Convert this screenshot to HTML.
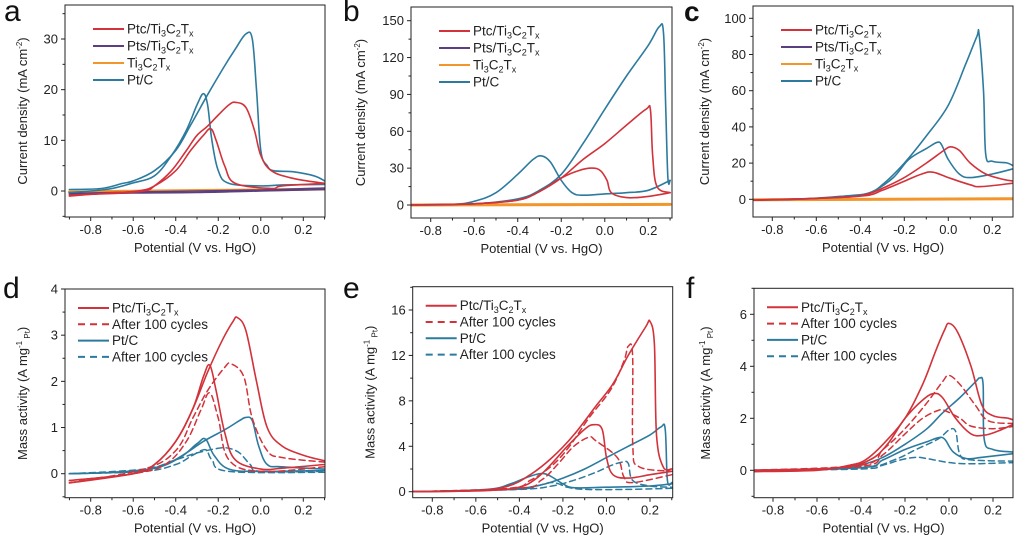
<!DOCTYPE html>
<html><head><meta charset="utf-8"><style>
html,body{margin:0;padding:0;background:#fff;}
svg{display:block;font-family:"Liberation Sans",sans-serif;}
</style></head><body>
<svg id="fig" width="1014" height="537" viewBox="0 0 1014 537" xmlns="http://www.w3.org/2000/svg"></svg>
<script>
// ===== Panel a (current density, mA cm-2) =====
const aPtcF_x=[-0.9,-0.7,-0.55,-0.5,-0.42,-0.35,-0.3,-0.25,-0.2,-0.15,-0.12,-0.07,-0.03,0.0,0.05,0.15,0.3];
const aPtcF_y=[-0.8,-0.5,0,1,4,8,11,12.8,15,17,17.5,16.5,12,7,4,2.5,1.5];
const aPtcR_x=[0.3,0.1,0.05,-0.12,-0.17,-0.21,-0.235,-0.27,-0.33,-0.4,-0.5,-0.58,-0.75,-0.9];
const aPtcR_y=[1.5,1.0,0.5,1.5,5,10,12.3,11,8,4,1,0,-0.5,-1];
const aPtF_x=[-0.9,-0.75,-0.65,-0.6,-0.5,-0.4,-0.33,-0.25,-0.18,-0.12,-0.07,-0.04,-0.02,0.0,0.03,0.06,0.15,0.25,0.3];
const aPtF_y=[0.3,0.5,1.5,2,4,8,13,19,24,28,31,30,20,8,5,4,3.8,3,2];
const aPtR_x=[0.3,0.1,0.0,-0.15,-0.2,-0.23,-0.25,-0.27,-0.3,-0.35,-0.42,-0.5,-0.6,-0.7,-0.8,-0.9];
const aPtR_y=[1.3,1.2,1.0,1.5,4,10,17,19.2,17,12,7,3,1.6,0.5,0,-0.3];
const aPtsF_x=[-0.9,-0.6,-0.3,0.0,0.3];
const aPtsF_y=[-0.5,-0.2,0,0.2,0.6];
const aPtsR_x=[0.3,0.0,-0.3,-0.6,-0.9];
const aPtsR_y=[0.3,0.0,-0.3,-0.4,-0.6];
const aTiF_x=[-0.9,-0.5,0.0,0.3];
const aTiF_y=[-0.2,0,0.2,0.4];
// ===== Panel b =====
const bPtcF_x=[-0.9,-0.6,-0.4,-0.3,-0.2,-0.1,0.0,0.1,0.19,0.21,0.22,0.24,0.3];
const bPtcF_y=[0,1,4,11,22,37,50,65,78,77,40,15,10];
const bPtcR_x=[0.3,0.2,0.1,0.03,0.01,-0.02,-0.06,-0.12,-0.2,-0.3,-0.4,-0.6,-0.9];
const bPtcR_y=[10,7,6,10,20,28,30,28,22,11,4,1,0];
const bPtF_x=[-0.9,-0.6,-0.4,-0.3,-0.2,-0.1,0.0,0.1,0.2,0.25,0.27,0.28,0.29,0.3];
const bPtF_y=[0,1,5,12,25,50,78,105,130,145,140,80,22,20];
const bPtR_x=[0.3,0.2,0.1,0.0,-0.1,-0.15,-0.2,-0.25,-0.29,-0.33,-0.4,-0.5,-0.6,-0.7,-0.9];
const bPtR_y=[20,12,10,9,8,10,20,35,40,37,25,10,3,0.5,0];
const bTiF_x=[-0.9,0.3];
const bTiF_y=[0,0.5];
// ===== Panel c =====
const cPtcF_x=[-0.9,-0.5,-0.38,-0.3,-0.2,-0.1,-0.02,0.01,0.05,0.1,0.17,0.25,0.3];
const cPtcF_y=[-0.5,1,2.5,6,12,20,27,29,27,20,14,11,10];
const cPtcR_x=[0.3,0.15,0.1,0.0,-0.07,-0.12,-0.2,-0.3,-0.38,-0.6,-0.9];
const cPtcR_y=[9,7,8,12,15,14,10,5,2,0.5,-0.5];
const cPtF_x=[-0.9,-0.7,-0.5,-0.37,-0.3,-0.2,-0.1,0.0,0.08,0.13,0.14,0.16,0.17,0.2,0.27,0.3];
const cPtF_y=[-0.5,0,1.5,3,8,20,35,52,75,90,91,60,25,21,20,18];
const cPtR_x=[0.3,0.2,0.1,0.05,0.0,-0.03,-0.05,-0.1,-0.18,-0.25,-0.35,-0.45,-0.6,-0.9];
const cPtR_y=[17,14,12,14,22,30,31.5,28,22,12,4,2,0.5,-0.5];
const cTiF_x=[-0.9,0.3];
const cTiF_y=[-0.3,0.3];
// ===== Panel d (mass activity, A mg-1 Pt) =====
const dPtcF_x=[-0.9,-0.6,-0.5,-0.4,-0.32,-0.25,-0.18,-0.13,-0.11,-0.07,-0.02,0.03,0.1,0.2,0.3];
const dPtcF_y=[-0.2,0,0.2,0.7,1.4,2.2,2.9,3.3,3.38,3.1,2.0,1.0,0.6,0.4,0.28];
const dPtcR_x=[0.3,0.1,0.0,-0.12,-0.17,-0.21,-0.24,-0.27,-0.32,-0.4,-0.5,-0.6,-0.9];
const dPtcR_y=[0.2,0.12,0.1,0.3,0.9,1.8,2.35,2.1,1.4,0.7,0.2,0,-0.15];
const dPtcAF_x=[-0.9,-0.55,-0.4,-0.32,-0.25,-0.17,-0.14,-0.08,-0.04,0.03,0.1,0.3];
const dPtcAF_y=[-0.2,0.1,0.5,1.2,1.8,2.3,2.38,2.1,1.2,0.5,0.35,0.25];
const dPtcAR_x=[0.3,0.0,-0.15,-0.2,-0.24,-0.28,-0.35,-0.45,-0.6,-0.9];
const dPtcAR_y=[0.15,0.05,0.3,1.2,1.75,1.4,0.7,0.2,0,-0.15];
const dPtF_x=[-0.9,-0.6,-0.45,-0.35,-0.27,-0.17,-0.1,-0.07,-0.04,-0.01,0.03,0.1,0.3];
const dPtF_y=[0,0.05,0.2,0.45,0.7,0.95,1.15,1.22,1.15,0.6,0.2,0.15,0.1];
const dPtR_x=[0.3,0.0,-0.15,-0.22,-0.26,-0.3,-0.38,-0.5,-0.7,-0.9];
const dPtR_y=[0.07,0.05,0.1,0.4,0.75,0.65,0.35,0.12,0.03,0];
const dPtAF_x=[-0.9,-0.55,-0.4,-0.3,-0.2,-0.15,-0.1,-0.05,0.0,0.3];
const dPtAF_y=[0,0.1,0.3,0.45,0.55,0.55,0.45,0.2,0.05,0.05];
const dPtAR_x=[0.3,-0.15,-0.23,-0.26,-0.32,-0.4,-0.55,-0.9];
const dPtAR_y=[0.03,0.05,0.3,0.52,0.4,0.2,0.05,0];
// ===== Panel e =====
const ePtcF_x=[-0.9,-0.6,-0.45,-0.35,-0.25,-0.15,-0.05,0.03,0.1,0.18,0.2,0.22,0.23,0.26,0.3];
const ePtcF_y=[0,0.1,0.5,1.5,3,5,7.5,9.5,12,14.5,15,13,5,2.2,2.0];
const ePtcR_x=[0.3,0.2,0.1,0.03,0.0,-0.02,-0.06,-0.1,-0.18,-0.25,-0.32,-0.4,-0.55,-0.9];
const ePtcR_y=[1.8,1.5,1.2,1.5,3,5.5,5.9,5.5,4,2.5,1.2,0.4,0.1,0];
const ePtcAF_x=[-0.9,-0.45,-0.35,-0.25,-0.17,-0.08,0.02,0.08,0.1,0.12,0.121,0.15,0.3];
const ePtcAF_y=[0,0.3,1,2.3,4,6.5,9,11.5,12.8,12,4,2.2,1.8];
const ePtcAR_x=[0.3,0.12,0.08,0.05,-0.05,-0.08,-0.15,-0.22,-0.3,-0.4,-0.9];
const ePtcAR_y=[1.5,0.8,1.3,3,4.5,4.8,4,2.5,1,0.3,0];
const ePtF_x=[-0.9,-0.6,-0.4,-0.3,-0.2,-0.1,0.0,0.1,0.2,0.25,0.27,0.28,0.3];
const ePtF_y=[0,0.1,0.3,0.6,1.2,2,3,4,5,5.7,5.5,1,0.8];
const ePtR_x=[0.3,0.2,0.0,-0.15,-0.2,-0.26,-0.3,-0.36,-0.44,-0.55,-0.9];
const ePtR_y=[0.7,0.5,0.4,0.35,0.7,1.4,1.6,1.3,0.7,0.2,0];
const ePtAF_x=[-0.9,-0.4,-0.25,-0.15,-0.05,0.02,0.07,0.1,0.12,0.2,0.3];
const ePtAF_y=[0,0.2,0.5,1,1.7,2.3,2.6,2.5,1,0.5,0.4];
const ePtAR_x=[0.3,0.1,-0.1,-0.18,-0.22,-0.26,-0.32,-0.42,-0.9];
const ePtAR_y=[0.3,0.2,0.2,0.4,0.7,0.8,0.5,0.2,0];
// ===== Panel f =====
const fPtcF_x=[-0.9,-0.6,-0.45,-0.38,-0.3,-0.2,-0.12,-0.06,-0.02,0.0,0.04,0.1,0.15,0.2,0.27,0.3];
const fPtcF_y=[-0.05,0,0.2,0.4,1.0,2,3.3,4.6,5.4,5.65,5.3,4,2.5,2.1,2.0,1.9];
const fPtcR_x=[0.3,0.22,0.16,0.1,0.03,-0.03,-0.07,-0.12,-0.2,-0.28,-0.36,-0.5,-0.9];
const fPtcR_y=[1.8,1.5,1.35,1.4,2.0,2.8,2.95,2.7,2.0,1.0,0.4,0.1,-0.05];
const fPtcAF_x=[-0.9,-0.4,-0.3,-0.2,-0.1,-0.03,0.0,0.05,0.12,0.18,0.3];
const fPtcAF_y=[0,0.2,0.8,1.6,2.6,3.4,3.65,3.3,2.5,1.9,1.8];
const fPtcAR_x=[0.3,0.2,0.1,0.05,-0.02,-0.05,-0.12,-0.2,-0.3,-0.4,-0.9];
const fPtcAR_y=[1.7,1.6,1.7,2.0,2.3,2.3,2.0,1.4,0.6,0.15,0];
const fPtF_x=[-0.9,-0.5,-0.4,-0.3,-0.2,-0.1,-0.03,0.05,0.12,0.14,0.155,0.16,0.2,0.3];
const fPtF_y=[0,0.05,0.2,0.5,1.0,1.6,2.2,2.8,3.4,3.55,3.3,1.2,0.8,0.7];
const fPtR_x=[0.3,0.15,0.08,0.02,-0.02,-0.05,-0.1,-0.2,-0.3,-0.4,-0.9];
const fPtR_y=[0.65,0.5,0.45,0.7,1.2,1.25,1.1,0.8,0.4,0.1,0];
const fPtAF_x=[-0.9,-0.4,-0.25,-0.15,-0.05,0.0,0.03,0.05,0.1,0.3];
const fPtAF_y=[0,0.1,0.4,0.8,1.2,1.55,1.5,0.6,0.4,0.35];
const fPtAR_x=[0.3,0.1,0.0,-0.1,-0.15,-0.22,-0.3,-0.4,-0.9];
const fPtAR_y=[0.3,0.25,0.3,0.45,0.5,0.4,0.2,0.05,0];
// ===== tick labels =====
const xTicks=[-0.8,-0.6,-0.4,-0.2,0.0,0.2];
const yTicksA=[0,10,20,30];
const yTicksB=[0,30,60,90,120,150];
const yTicksC=[0,20,40,60,80,100];
const yTicksD=[0,1,2,3,4];
const yTicksE=[0,4,8,12,16];
const yTicksF=[0,2,4,6];
const legendTop=["Ptc/Ti3C2Tx","Pts/Ti3C2Tx","Ti3C2Tx","Pt/C"];
const legendBot=["Ptc/Ti3C2Tx","After 100 cycles","Pt/C","After 100 cycles"];

const RED="#d2323a",BLUE="#2c7b9e",ORANGE="#f2952b",PURPLE="#5b3f80";
const NS="http://www.w3.org/2000/svg";
const svg=document.getElementById('fig');
function mk(tag,attrs,parent){const e=document.createElementNS(NS,tag);for(const k in attrs)e.setAttribute(k,attrs[k]);(parent||svg).appendChild(e);return e;}

function smoothPath(P){
  if(P.length<3)return 'M'+P.map(p=>p[0].toFixed(1)+','+p[1].toFixed(1)).join(' L');
  let d='M'+P[0][0].toFixed(1)+','+P[0][1].toFixed(1);
  const t=0.35;
  for(let i=0;i<P.length-1;i++){
    const p0=P[Math.max(0,i-1)],p1=P[i],p2=P[i+1],p3=P[Math.min(P.length-1,i+2)];
    const c1x=p1[0]+(p2[0]-p0[0])*t/2*1, c1y=p1[1]+(p2[1]-p0[1])*t/2;
    const c2x=p2[0]-(p3[0]-p1[0])*t/2, c2y=p2[1]-(p3[1]-p1[1])*t/2;
    d+=' C'+c1x.toFixed(1)+','+c1y.toFixed(1)+' '+c2x.toFixed(1)+','+c2y.toFixed(1)+' '+p2[0].toFixed(1)+','+p2[1].toFixed(1);
  }
  return d;
}

const panels=[
 {id:'a',letter:'a',lx:4,ly:21,left:65,right:325,top:5,bottom:217,x08:90.7,x02:303.3,y0:191,yr:39,yv:30,yticks:yTicksA,ystep:5,kind:'cd',
  series:[[aTiF_x,aTiF_y,ORANGE,0,3],[aPtsF_x,aPtsF_y,PURPLE,0,1.6],[aPtsR_x,aPtsR_y,PURPLE,0,1.6],[aPtF_x,aPtF_y,BLUE,0,1.6],[aPtR_x,aPtR_y,BLUE,0,1.6],[aPtcF_x,aPtcF_y,RED,0,1.6],[aPtcR_x,aPtcR_y,RED,0,1.6]]},
 {id:'b',letter:'b',lx:343,ly:21,left:411,right:672,top:7,bottom:218,x08:430.7,x02:648.3,y0:205,yr:20.7,yv:150,yticks:yTicksB,ystep:15,kind:'cd',
  series:[[bTiF_x,bTiF_y,ORANGE,0,3],[bPtF_x,bPtF_y,BLUE,0,1.6],[bPtR_x,bPtR_y,BLUE,0,1.6],[bPtcF_x,bPtcF_y,RED,0,1.6],[bPtcR_x,bPtcR_y,RED,0,1.6]]},
 {id:'c',letter:'c',lx:684,ly:21,left:753,right:1013,top:6,bottom:217,x08:772.3,x02:992.3,y0:199.3,yr:18.3,yv:100,yticks:yTicksC,ystep:10,kind:'cd',bold:true,
  series:[[cTiF_x,cTiF_y,ORANGE,0,3],[cPtF_x,cPtF_y,BLUE,0,1.6],[cPtR_x,cPtR_y,BLUE,0,1.6],[cPtcF_x,cPtcF_y,RED,0,1.6],[cPtcR_x,cPtcR_y,RED,0,1.6]]},
 {id:'d',letter:'d',lx:3,ly:298,left:65,right:325,top:289,bottom:497.7,x08:90.7,x02:303.3,y0:473.7,yr:289,yv:4,yticks:yTicksD,ystep:0.5,kind:'ma',
  series:[[dPtAF_x,dPtAF_y,BLUE,1,1.5],[dPtAR_x,dPtAR_y,BLUE,1,1.5],[dPtF_x,dPtF_y,BLUE,0,1.6],[dPtR_x,dPtR_y,BLUE,0,1.6],[dPtcAF_x,dPtcAF_y,RED,1,1.5],[dPtcAR_x,dPtcAR_y,RED,1,1.5],[dPtcF_x,dPtcF_y,RED,0,1.6],[dPtcR_x,dPtcR_y,RED,0,1.6]]},
 {id:'e',letter:'e',lx:343,ly:298,left:412.7,right:672.7,top:286.7,bottom:497.7,x08:432.3,x02:650,y0:491.7,yr:310,yv:16,yticks:yTicksE,ystep:2,kind:'ma',
  series:[[ePtAF_x,ePtAF_y,BLUE,1,1.5],[ePtAR_x,ePtAR_y,BLUE,1,1.5],[ePtF_x,ePtF_y,BLUE,0,1.6],[ePtR_x,ePtR_y,BLUE,0,1.6],[ePtcAF_x,ePtcAF_y,RED,1,1.5],[ePtcAR_x,ePtcAR_y,RED,1,1.5],[ePtcF_x,ePtcF_y,RED,0,1.6],[ePtcR_x,ePtcR_y,RED,0,1.6]]},
 {id:'f',letter:'f',lx:686,ly:298,left:754,right:1013,top:288.3,bottom:497.7,x08:773,x02:993,y0:470.3,yr:314.3,yv:6,yticks:yTicksF,ystep:1,kind:'ma',
  series:[[fPtAF_x,fPtAF_y,BLUE,1,1.5],[fPtAR_x,fPtAR_y,BLUE,1,1.5],[fPtF_x,fPtF_y,BLUE,0,1.6],[fPtR_x,fPtR_y,BLUE,0,1.6],[fPtcAF_x,fPtcAF_y,RED,1,1.5],[fPtcAR_x,fPtcAR_y,RED,1,1.5],[fPtcF_x,fPtcF_y,RED,0,1.6],[fPtcR_x,fPtcR_y,RED,0,1.6]]}
];

function chem(t,parent){
  const map={"Ptc/Ti3C2Tx":[["Ptc/Ti",0],["3",1],["C",0],["2",1],["T",0],["x",1]],
             "Pts/Ti3C2Tx":[["Pts/Ti",0],["3",1],["C",0],["2",1],["T",0],["x",1]],
             "Ti3C2Tx":[["Ti",0],["3",1],["C",0],["2",1],["T",0],["x",1]]};
  const parts=map[t]||[[t,0]];
  let prev=0;
  parts.forEach(([s,sub])=>{const ts=document.createElementNS(NS,'tspan');if(sub){ts.setAttribute('font-size','9');ts.setAttribute('dy','3');}else{ts.setAttribute('dy',prev?'-3':'0');}
    prev=sub;ts.textContent=s;parent.appendChild(ts);});
}

panels.forEach(p=>{
  const g=mk('g',{});
  
  
  const X=v=>p.x08+(v+0.8)*(p.x02-p.x08);
  const Y=v=>p.y0-v*(p.y0-p.yr)/p.yv;
  const ymin=(p.y0-p.bottom)/((p.y0-p.yr)/p.yv), ymax=(p.y0-p.top)/((p.y0-p.yr)/p.yv);
  const L=mk('text',{x:p.lx,y:p.ly,'font-size':p.bold?28:30,'font-weight':p.bold?'bold':'normal',fill:'#111'},g);
  
  
  L.textContent=p.letter;
  const cp=mk('clipPath',{id:'clip'+p.id},g);mk('rect',{x:p.left,y:p.top,width:p.right-p.left,height:p.bottom-p.top},cp);
  const sg=mk('g',{'clip-path':'url(#clip'+p.id+')'},g);
  p.series.forEach((s,i)=>{
    const P=s[0].map((v,k)=>[X(v),Y(s[1][k])]);
    const pl=mk('path',{d:smoothPath(P),fill:'none',stroke:s[2],'stroke-width':s[4],'stroke-linejoin':'round','stroke-linecap':'round'},sg);
    if(s[3])pl.setAttribute('stroke-dasharray','6,4');
    
    
  });
  const fr=mk('rect',{x:p.left,y:p.top,width:p.right-p.left,height:p.bottom-p.top,fill:'none',stroke:'#222','stroke-width':1},g);
  
  
  for(let v=-0.9;v<=0.31;v+=0.1){const x=X(v);if(x<p.left-0.5||x>p.right+0.5)continue;const major=Math.abs(Math.round(v*10))%2===0;
    mk('line',{x1:x,x2:x,y1:p.bottom,y2:p.bottom+(major?4:2.5),stroke:'#222','stroke-width':1},g);}
  xTicks.forEach(v=>{const t=mk('text',{x:X(v),y:p.bottom+17,'font-size':13,'text-anchor':'middle',fill:'#222'},g);
    
    
    t.textContent=v.toFixed(1);});
  for(let v=Math.ceil(ymin/p.ystep)*p.ystep;v<=ymax+1e-6;v+=p.ystep){const y=Y(v);const major=Math.abs(Math.round(v/(p.ystep*2))*(p.ystep*2)-v)<1e-6;
    mk('line',{x1:p.left,x2:p.left-(major?4:2.5),y1:y,y2:y,stroke:'#222','stroke-width':1},g);}
  p.yticks.forEach(v=>{const t=mk('text',{x:p.left-7,y:Y(v)+4.5,'font-size':13,'text-anchor':'end',fill:'#222'},g);
    
    
    t.textContent=String(v);});
  const xt=mk('text',{x:(p.left+p.right)/2,y:p.bottom+35,'font-size':13,'text-anchor':'middle',fill:'#222'},g);
  
  
  xt.textContent='Potential (V vs. HgO)';
  const yc=(p.top+p.bottom)/2, yx=p.left-(p.id==='b'?46:(p.id==='c'||p.id==='f'?44:38));
  const yt=mk('text',{x:yx,y:yc,'font-size':13,'text-anchor':'middle',fill:'#222',transform:'rotate(-90 '+yx+' '+yc+')'},g);
  
  
  if(p.kind==='cd'){yt.innerHTML='Current density (mA cm<tspan font-size="8" dy="-5">-2</tspan><tspan dy="5">)</tspan>';}
  else{yt.innerHTML='Mass activity (A mg<tspan font-size="8" dy="-5">-1</tspan><tspan font-size="8" dy="8"> Pt</tspan><tspan dy="-3">)</tspan>';}
  const labels=p.kind==='cd'?legendTop:legendBot;
  const colors=p.kind==='cd'?[RED,PURPLE,ORANGE,BLUE]:[RED,RED,BLUE,BLUE];
  const dashed=p.kind==='cd'?[0,0,0,0]:[0,1,0,1];
  const lx=p.left+(p.kind==='cd'?28:13), ly0=p.kind==='cd'?p.top+24:p.top+19, dy=p.kind==='cd'?17:16.3;
  labels.forEach((lab,i)=>{const lg=mk('g',{},g);
    
    
    const y=ly0+i*dy;
    const ln=mk('line',{x1:lx,x2:lx+31,y1:y,y2:y,stroke:colors[i],'stroke-width':2},lg);
    if(dashed[i])ln.setAttribute('stroke-dasharray','7,5');
    const t=mk('text',{x:lx+34,y:y+4.5,'font-size':13.5,fill:'#222'},lg);
    chem(lab,t);});
});
</script>
</body></html>
